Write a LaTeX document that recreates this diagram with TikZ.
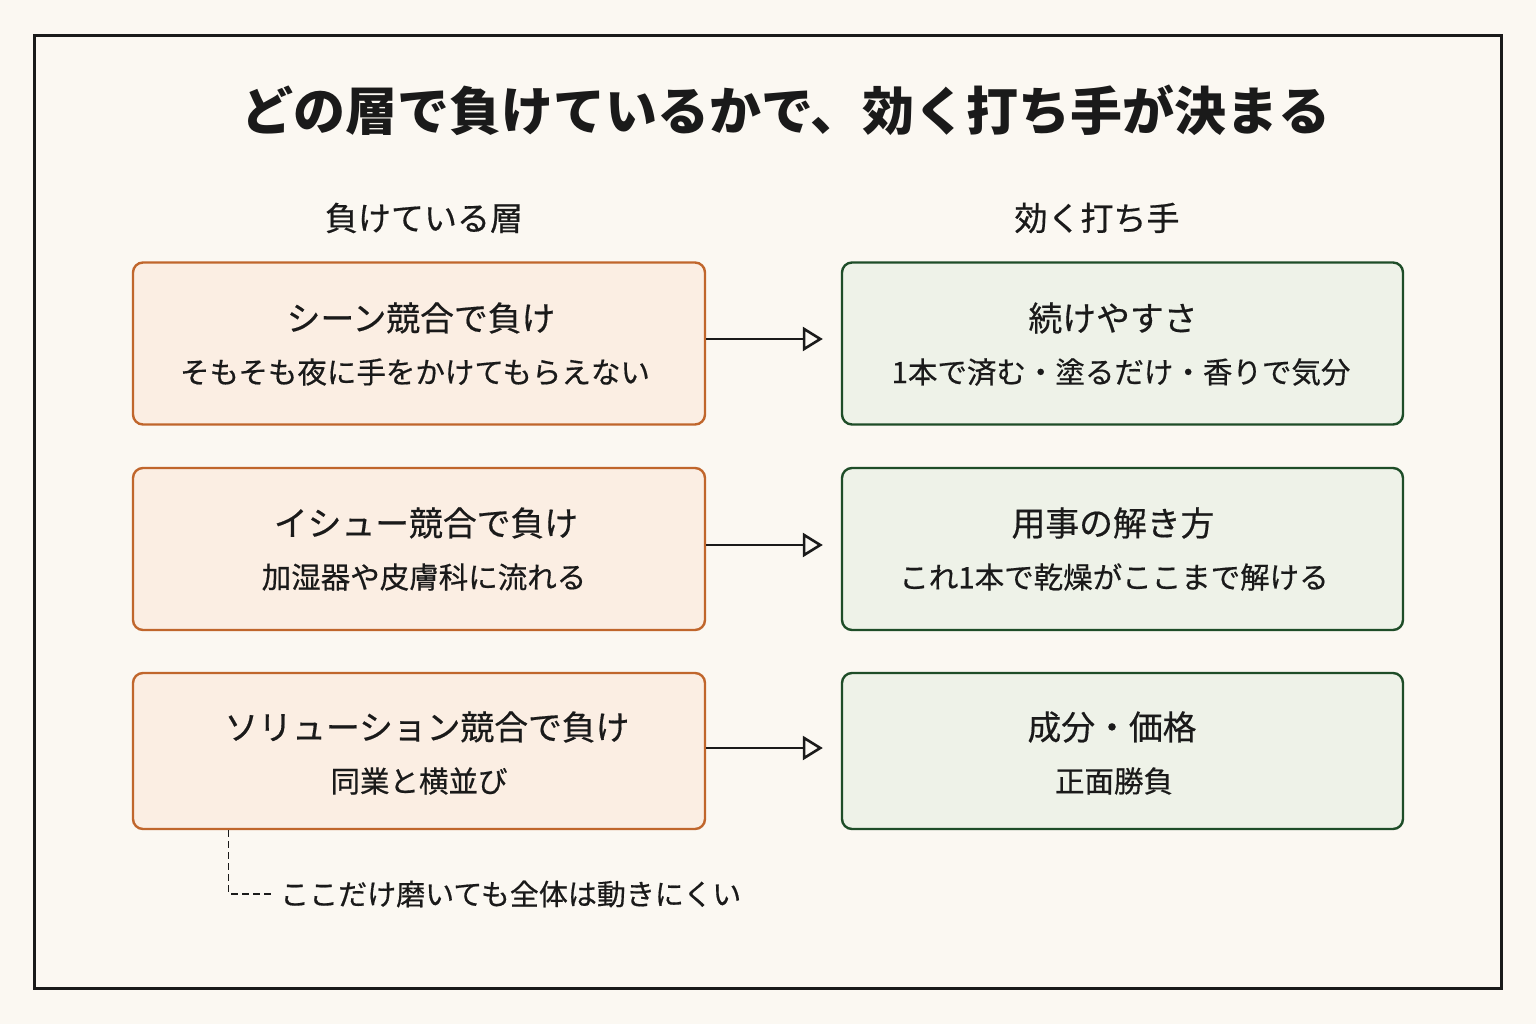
\documentclass[tikz,border=0pt]{standalone}
\usepackage{fontspec}
\setmainfont{Noto Sans CJK JP}
\newfontfamily\jpmed{Noto Sans CJK JP}[FakeBold=0.5]
\usetikzlibrary{arrows.meta}
\definecolor{bg}{HTML}{FBF8F2}
\definecolor{ink}{HTML}{1A1A1A}
\definecolor{orln}{HTML}{C0662C}
\definecolor{orfill}{HTML}{FBEEE3}
\definecolor{grln}{HTML}{1E4D28}
\definecolor{grfill}{HTML}{EEF2E8}
\tikzset{
  lbox/.style={draw=orln, fill=orfill, line width=2.4pt, rounded corners=10pt, minimum width=572pt, minimum height=162pt, inner sep=0pt},
  rbox/.style={draw=grln, fill=grfill, line width=2.4pt, rounded corners=10pt, minimum width=561pt, minimum height=162pt, inner sep=0pt},
  head/.style={text=ink, font=\jpmed\fontsize{33}{36}\selectfont, inner sep=0pt},
  main/.style={text=ink, font=\jpmed\fontsize{33.8}{38}\selectfont, inner sep=0pt},
  sub/.style={text=ink, font=\jpmed\fontsize{29.5}{33}\selectfont, inner sep=0pt},
  arr/.style={draw=ink, line width=2.6pt, -{Triangle[open, length=20pt, width=24pt, line width=2.6pt]}},
  note/.style={text=ink, font=\jpmed\fontsize{29}{32}\selectfont, inner sep=0pt, anchor=west},
}
\begin{document}
\begin{tikzpicture}[x=1pt,y=-1pt]
\fill[bg] (0,0) rectangle (1536,1024);
\useasboundingbox (0,0) rectangle (1536,1024);
\draw[ink, line width=3pt] (34,36) rectangle (1501,988);

\node[text=ink, font=\fontsize{52}{56}\selectfont\bfseries, inner sep=0pt] (title) at (786,110) {どの層で負けているかで、効く打ち手が決まる};

\node[head] (hl) at (424,218) {負けている層};
\node[head] (hr) at (1097,218) {効く打ち手};

% left boxes
\node[lbox] (l1) at (419,343.5) {};
\node[lbox] (l2) at (419,549) {};
\node[lbox, minimum height=156pt] (l3) at (419,751) {};
% right boxes
\node[rbox] (r1) at (1122.5,343.5) {};
\node[rbox] (r2) at (1122.5,549) {};
\node[rbox, minimum height=156pt] (r3) at (1122.5,751) {};

\node[main] (l1a) at (421,318) {シーン競合で負け};
\node[sub]  (l1b) at (415,372) {そもそも夜に手をかけてもらえない};
\node[main] (l2a) at (426,523) {イシュー競合で負け};
\node[sub]  (l2b) at (424,577) {加湿器や皮膚科に流れる};
\node[main] (l3a) at (427,727) {ソリューション競合で負け};
\node[sub]  (l3b) at (419,781) {同業と横並び};

\node[main] (r1a) at (1113,318) {続けやすさ};
\node[sub]  (r1b) at (1121,372) {1本で済む・塗るだけ・香りで気分};
\node[main] (r2a) at (1113,523) {用事の解き方};
\node[sub]  (r2b) at (1114,577) {これ1本で乾燥がここまで解ける};
\node[main] (r3a) at (1112,727) {成分・価格};
\node[sub]  (r3b) at (1114,781) {正面勝負};

\draw[arr] ([yshift=4.5pt]l1.east) -- ([xshift=-18pt,yshift=4.5pt]r1.west);
\draw[arr] ([yshift=4pt]l2.east) -- ([xshift=-18pt,yshift=4pt]r2.west);
\draw[arr] ([yshift=3pt]l3.east) -- ([xshift=-18pt,yshift=3pt]r3.west);

\node[note] (nt) at (280,894) {ここだけ磨いても全体は動きにくい};
\coordinate (dstart) at ([xshift=97pt]l3.south west);
\draw[ink, line width=1.3pt, dash pattern=on 7pt off 4pt] (dstart) -- (dstart |- nt.west) -- ([xshift=-8pt]nt.west);
\end{tikzpicture}
\end{document}
